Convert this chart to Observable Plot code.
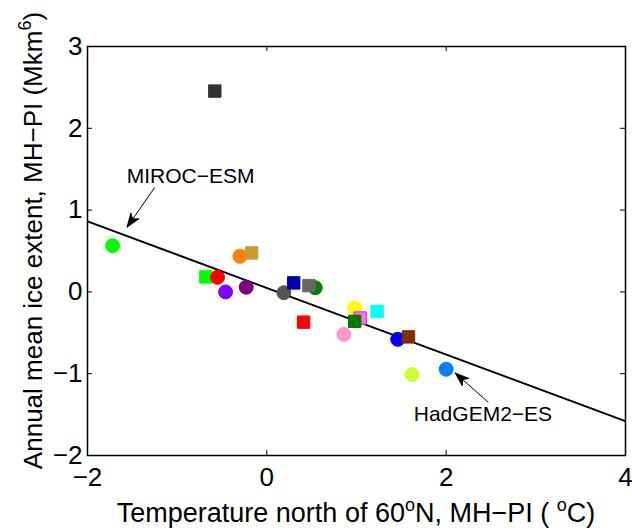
<!DOCTYPE html>
<html>
<head>
<meta charset="utf-8">
<script src="https://cdn.jsdelivr.net/npm/d3@7"></script>
<script src="https://cdn.jsdelivr.net/npm/@observablehq/plot@0.6"></script>
<style>
  html, body { margin: 0; padding: 0; background: #fff; }
  #chart { width: 632px; height: 530px; }
</style>
</head>
<body>
<div id="chart"></div>
<script>
// ---- data ----
const models = ["lime-c","lime-s","red-c","orange-c","tan-s","violet-c","purple-c","dgray-c","green-c","blue-s","gray-s","red-s","pink-c","yellow-c","magenta-s","dgreen-s","cyan-s","blue-c","brown-s","ygreen-c","lblue-c","black-s"];
const tempX  = [-1.72, -0.68, -0.55, -0.30, -0.17, -0.46, -0.23, 0.19, 0.54, 0.30, 0.47, 0.41, 0.86, 0.98, 1.04, 0.98, 1.23, 1.46, 1.58, 1.62, 2.00, -0.58];
const iceY   = [0.565, 0.183, 0.178, 0.435, 0.476, 0.00, 0.057, -0.01, 0.05, 0.11, 0.077, -0.37, -0.52, -0.196, -0.32, -0.36, -0.24, -0.58, -0.55, -1.01, -0.945, 2.455];
const shapes = ["circle","square","circle","circle","square","circle","circle","circle","circle","square","square","square","circle","circle","square","square","square","circle","square","circle","circle","square"];
const fills  = ["#00ff00","#00ff00","#ff0000","#ff8000","#cc9933","#8000ff","#800080","#555555","#008000","#0000aa","#666666","#ff0000","#ff99cc","#ffff00","#ff77dd","#007700","#00ffff","#0000ff","#803000","#ccff33","#0080ff","#333333"];
const strokes= ["#00ff00","#00ff00","#ff0000","#ff8000","#cc9933","#8000ff","#800080","#555555","#008000","#0000aa","#666666","#ff0000","#ff99cc","#ffff00","#ff00ff","#007700","#00ffff","#0000ff","#803000","#ccff33","#0080ff","#333333"];

const fitX = [-2, 4];
const fitY = [0.862, -1.58];

const annLabels = ["MIROC\u2212ESM", "HadGEM2\u2212ES"];
const annTextX = [-0.85, 2.41];
const annTextY = [1.41, -1.50];
const arrowX1 = [-1.25, 2.47];
const arrowY1 = [1.277, -1.35];
const arrowX2 = [-1.56, 2.10];
const arrowY2 = [0.79, -0.99];

const xTicks = [-2, 0, 2, 4];
const yTicks = [-2, -1, 0, 1, 2, 3];
const xDomain = [-2, 4];
const yDomain = [-2, 3];

// ---- layout ----
const W = 632, H = 530;
const mL = 87, mR = 7, mT = 46, mB = 75;
const tickPx = 5;
const kx = (W - mL - mR) / (xDomain[1] - xDomain[0]);
const ky = (H - mT - mB) / (yDomain[1] - yDomain[0]);
const tx = tickPx / kx;
const ty = tickPx / ky;

const points = models.map((m, i) => ({m, x: tempX[i], y: iceY[i], s: shapes[i], f: fills[i], st: strokes[i]}));
const fit = fitX.map((x, i) => ({x, y: fitY[i]}));
const anns = annLabels.map((t, i) => ({
  t, x: annTextX[i], y: annTextY[i], x1: arrowX1[i], y1: arrowY1[i], x2: arrowX2[i], y2: arrowY2[i],
  angle: Math.atan2((arrowX2[i] - arrowX1[i]) * kx, (arrowY2[i] - arrowY1[i]) * ky) * 180 / Math.PI
}));

// filled arrowhead symbol (tip at origin, pointing up)
const arrowHead = {
  draw(context, size) {
    const L = 14, w = 5;
    context.moveTo(0, 0);
    context.lineTo(w, L);
    context.lineTo(0, L * 0.72);
    context.lineTo(-w, L);
    context.closePath();
  }
};

const font = "Liberation Sans, Arial, Helvetica, sans-serif";
const fmt = d => d < 0 ? "\u2212" + Math.abs(d) : String(d);

const chart = Plot.plot({
  width: W, height: H,
  marginLeft: mL, marginRight: mR, marginTop: mT, marginBottom: mB,
  style: {fontFamily: font, background: "white", overflow: "visible"},
  x: {domain: xDomain},
  y: {domain: yDomain},
  symbol: {domain: ["circle", "square"], range: ["circle", "square"]},
  marks: [
    Plot.axisX(xTicks, {anchor: "bottom", tickSize: 0, tickPadding: 12, fontSize: 26, label: null, tickFormat: fmt}),
    Plot.axisY(yTicks, {anchor: "left", tickSize: 0, tickPadding: 5, fontSize: 26, label: null, tickFormat: fmt}),
    // inward ticks on all four sides
    Plot.ruleX(xTicks, {x: d => d, y1: yDomain[0], y2: yDomain[0] + ty, stroke: "black", strokeWidth: 1}),
    Plot.ruleX(xTicks, {x: d => d, y1: yDomain[1], y2: yDomain[1] - ty, stroke: "black", strokeWidth: 1}),
    Plot.ruleY(yTicks, {y: d => d, x1: xDomain[0], x2: xDomain[0] + tx, stroke: "black", strokeWidth: 1}),
    Plot.ruleY(yTicks, {y: d => d, x1: xDomain[1], x2: xDomain[1] - tx, stroke: "black", strokeWidth: 1}),
    Plot.line(fit, {x: "x", y: "y", stroke: "black", strokeWidth: 2, clip: true}),
    Plot.dot(points, {x: "x", y: "y", symbol: "s", fill: "f", stroke: "st", strokeWidth: 1, r: 7}),
    Plot.link(anns, {x1: "x1", y1: "y1", x2: "x2", y2: "y2", stroke: "black", strokeWidth: 1}),
    Plot.dot(anns, {x: "x2", y: "y2", symbol: arrowHead, rotate: "angle", fill: "black", stroke: "black", strokeWidth: 0.8, r: 5}),
    Plot.text(anns, {x: "x", y: "y", text: "t", fontSize: 21, fill: "black", textAnchor: "middle"}),
    Plot.frame({stroke: "black", strokeWidth: 1.5})
  ]
});

document.getElementById("chart").appendChild(chart);

// axis titles with superscripts
const svg = d3.select(chart);
const xt = svg.append("text")
  .attr("x", (mL + W - mR) / 2).attr("y", 522)
  .attr("text-anchor", "middle").attr("font-size", 27).attr("font-family", font).attr("fill", "black");
xt.append("tspan").text("Temperature north of 60");
xt.append("tspan").attr("font-size", 18).attr("dy", -11).text("o");
xt.append("tspan").attr("dy", 11).text("N, MH\u2212PI ( ");
xt.append("tspan").attr("font-size", 18).attr("dy", -11).text("o");
xt.append("tspan").attr("dy", 11).text("C)");

const yt = svg.append("text")
  .attr("transform", `translate(42,${(mT + H - mB) / 2 - 10}) rotate(-90)`)
  .attr("text-anchor", "middle").attr("font-size", 26).attr("font-family", font).attr("fill", "black");
yt.append("tspan").text("Annual mean ice extent, MH\u2212PI (Mkm");
yt.append("tspan").attr("font-size", 18).attr("dy", -11).text("6");
yt.append("tspan").attr("dy", 11).text(")");
</script>
</body>
</html>
